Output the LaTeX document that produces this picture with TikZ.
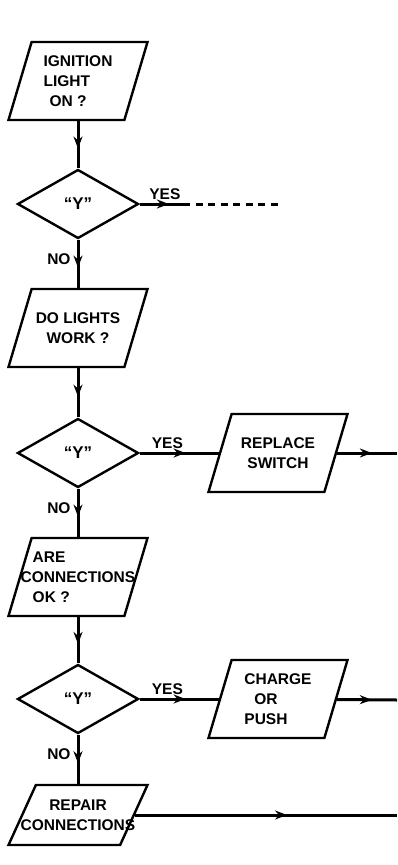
\documentclass[tikz,border=0pt]{standalone}
\usepackage{fontspec}
\setmainfont{Liberation Sans}
\usetikzlibrary{shapes.geometric,positioning,decorations.markings,arrows.meta}

\tikzset{
  box/.style={trapezium, trapezium left angle=76, trapezium right angle=104,
    trapezium stretches=true, draw, line width=2.4pt,
    minimum width=139pt, minimum height=78pt, inner sep=3pt},
  txt/.style={align=center, font=\fontsize{15.5}{20}\selectfont\bfseries, inner sep=0pt},
  test/.style={diamond, draw, line width=2.4pt, minimum width=121pt,
    minimum height=69pt, inner sep=0pt, font=\fontsize{17}{20}\selectfont\bfseries},
  flow/.style={line width=3pt, postaction={decorate},
    decoration={markings, mark=at position 0.58 with {\arrow{Stealth[length=12pt,width=9pt]}}}},
  lab/.style={font=\fontsize{15.5}{20}\selectfont\bfseries, inner sep=3pt}
}

\begin{document}
\begin{tikzpicture}[x=1pt, y=-1pt, node distance=124pt]
                \useasboundingbox (0,0) rectangle (397,865);

                \node[box, label={[txt, align=left]center:IGNITION\\LIGHT\\\hspace{6pt}ON ?}] (q1) at (78,81) {};
                \node[test] (d1) [below of=q1, node distance=123pt] {“Y”};
                \node[box, label={[txt]center:DO LIGHTS\\WORK ?}] (q2) [below of=d1] {};
                \node[test] (d2) [below of=q2, node distance=125pt] {“Y”};
                \node[box, label={[txt]center:REPLACE\\SWITCH}] (a1) [right of=d2, node distance=200pt] {};
                \node[box, label={[txt, align=left]center:\hspace{12pt}ARE\\CONNECTIONS\\\hspace{12pt}OK ?}] (q3) [below of=d2] {};
                \node[test] (d3) [below of=q3, node distance=122pt] {“Y”};
                \node[box, label={[txt, align=left]center:CHARGE\\\hspace{10pt}OR\\PUSH}] (a2) [right of=d3, node distance=200pt] {};
                \node[box, trapezium left angle=72, trapezium right angle=108,
                  minimum height=60pt, label={[txt]center:REPAIR\\CONNECTIONS}] (r1) at ([shift={(0,116)}] d3.center) {};

                \coordinate (y1) at (190,204);
                \coordinate (y2) at (282,204);
                \coordinate (o1) at (397,453);
                \coordinate (o2) at (397,700);
                \coordinate (o3) at (397,815);

                \draw[flow] (q1) -- (d1);
                \draw[flow] (d1) -- node[lab, above] {YES} (y1);
                \draw[line width=3pt, dash pattern=on 7pt off 5.5pt, dash phase=7pt] (y1) -- (y2);
                \draw[flow] (d1) -- node[lab, left, pos=0.4, xshift=-3pt] {NO} (q2);
                \draw[flow] (q2) -- (d2);
                \draw[flow] (d2) -- node[lab, above, pos=0.35] {YES} (a1);
                \draw[flow] (a1) -- (o1);
                \draw[flow] (d2) -- node[lab, left, pos=0.4, xshift=-3pt] {NO} (q3);
                \draw[flow] (q3) -- (d3);
                \draw[flow] (d3) -- node[lab, above, pos=0.35] {YES} (a2);
                \draw[flow] (a2) -- (o2);
                \draw[flow] (d3) -- node[lab, left, pos=0.4, xshift=-3pt] {NO} (r1);
                \draw[flow] (r1) -- (o3);
            \end{tikzpicture}
\end{document}
